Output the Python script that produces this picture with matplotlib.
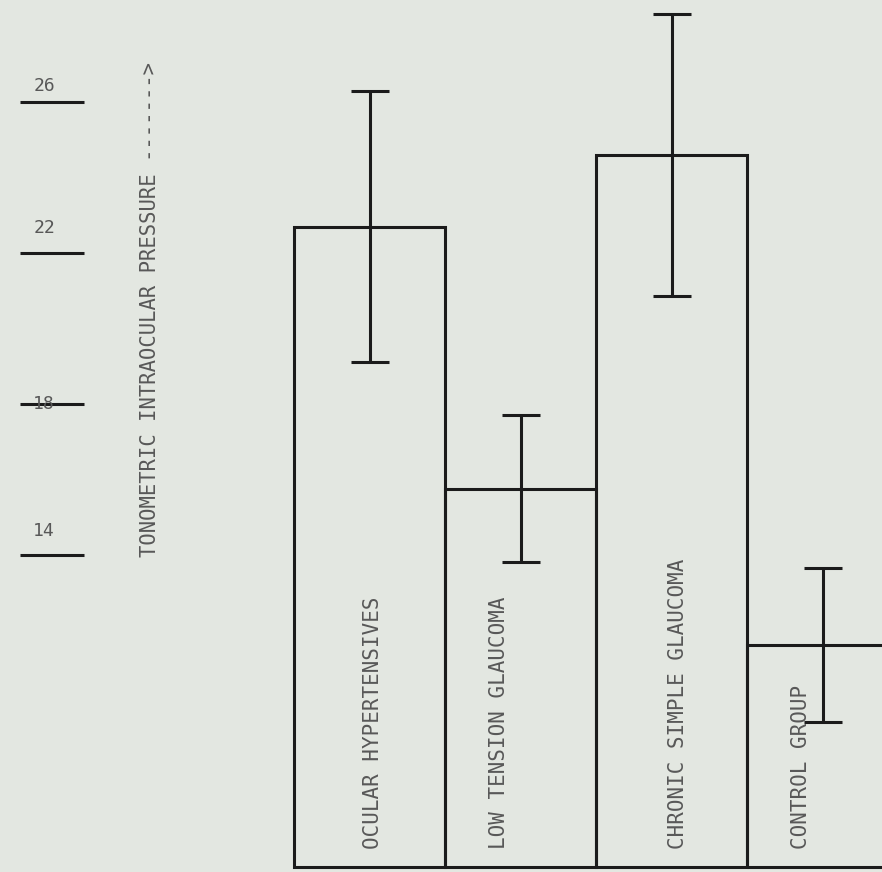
import numpy as np
import matplotlib
matplotlib.use('Agg')
import matplotlib.pyplot as plt

# group means and SDs
groups = ['OCULAR HYPERTENSIVES', 'LOW TENSION GLAUCOMA',
          'CHRONIC SIMPLE GLAUCOMA', 'CONTROL GROUP']
mean_iop = [22.7, 15.75, 24.6, 11.6]
sd_iop = [3.6, 1.95, 3.75, 2.05]
yticks = [14, 18, 22, 26]
ylabel = 'TONOMETRIC INTRAOCULAR PRESSURE ------->'

floor = 5.72  # where the bars start on the drawing

bg = '#e3e7e1'
ink = '#1b1b1b'
txt = '#585858'
font = 'DejaVu Sans Mono'

fig = plt.figure(figsize=(8.82, 8.72), dpi=100)
fig.patch.set_facecolor(bg)
ax = fig.add_axes([0, 0, 1, 1])
ax.set_facecolor(bg)
ax.set_xlim(-2.447, 3.394)
ax.set_ylim(5.58, 28.71)
ax.axis('off')

x = np.arange(len(groups))
heights = np.array(mean_iop) - floor
ax.bar(x, heights, bottom=floor, width=1.0, facecolor='none',
       edgecolor=ink, linewidth=2.2)
ax.errorbar(x, mean_iop, yerr=sd_iop, fmt='none', ecolor=ink,
            elinewidth=2.2, capsize=14, capthick=2.2)

# group names written inside the bars
label_dx = [0.02, -0.14, 0.04, -0.14]
for xi, name, dx in zip(x, groups, label_dx):
    ax.text(xi + dx, 6.19, name, rotation=90, ha='center', va='bottom',
            fontsize=15, color=txt, family=font)

# hand drawn scale on the left
lift = [0.62, 0.0, 0.66, 0.44]
for t, dy in zip(yticks, lift):
    ax.plot([-2.315, -1.891], [t, t], color=ink, linewidth=2.2,
            solid_capstyle='butt')
    ax.text(-2.155, t + dy, str(t), ha='center', va='center',
            fontsize=13, color=txt, family=font)

ax.text(-1.454, 20.5, ylabel, rotation=90, ha='center', va='center',
        fontsize=14.8, color=txt, family=font)

fig.savefig('out.png', dpi=100, facecolor=bg)
